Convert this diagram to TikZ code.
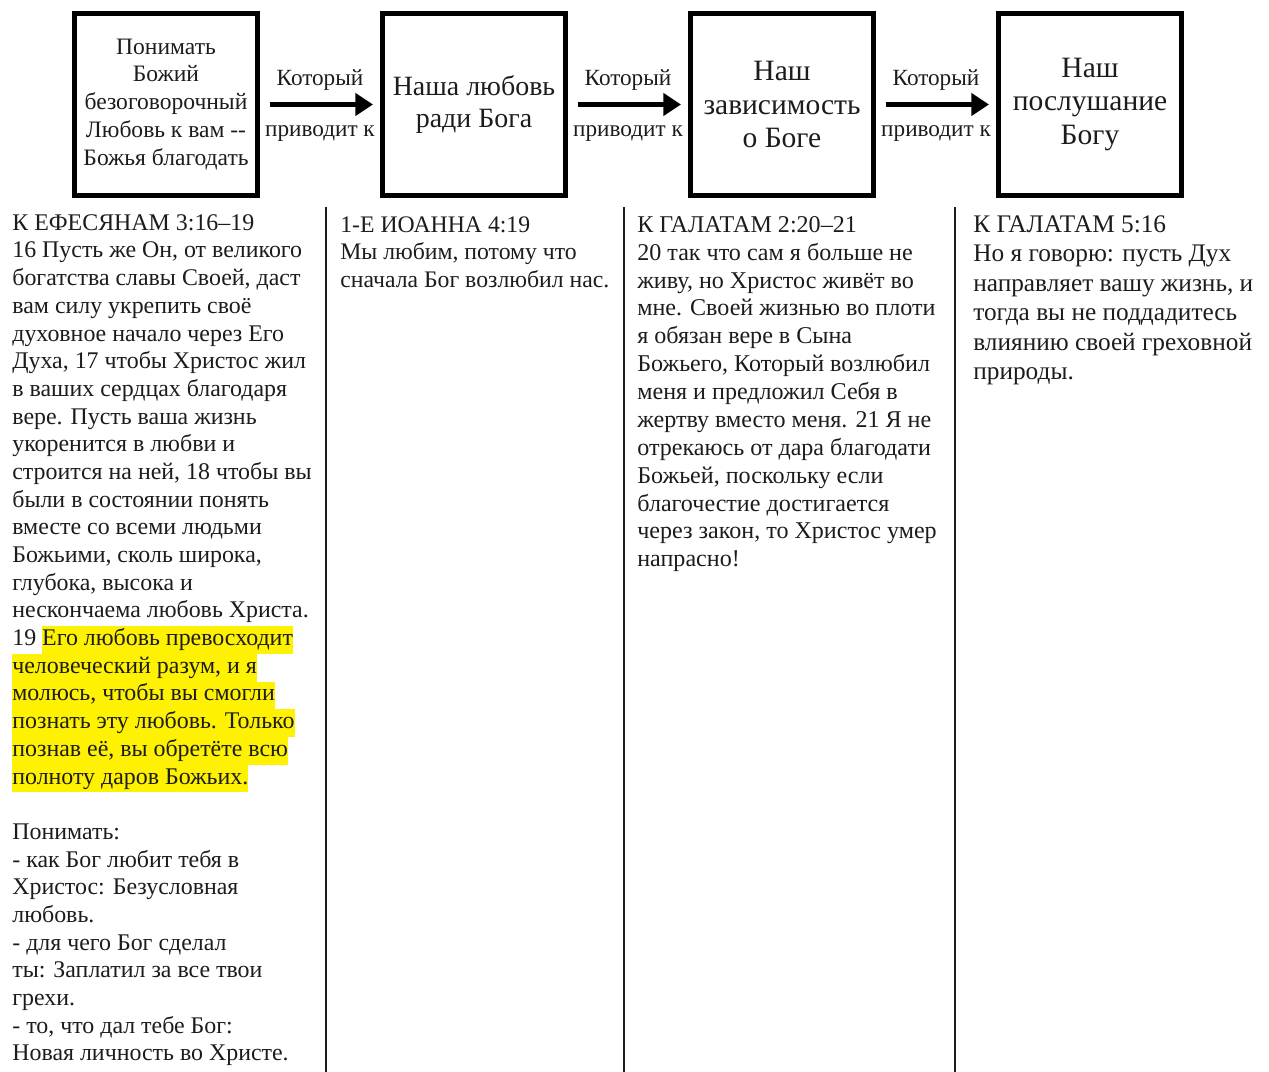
\documentclass[tikz,border=0pt]{standalone}
\usepackage{fontspec}
\setmainfont{Liberation Serif}
\usetikzlibrary{arrows.meta,positioning}
\definecolor{hlyellow}{RGB}{255,242,0}
\definecolor{inkgray}{RGB}{28,28,28}
\newcommand{\hlt}[1]{{\setlength{\fboxsep}{0pt}\colorbox{hlyellow}{\strut #1}}}

\begin{document}
\begin{tikzpicture}[
  x=0.02cm, y=-0.02cm,
  >={Triangle[length=10pt,width=12.5pt]},
  node distance=2.4cm,
  every node/.style={text=inkgray},
  stagebox/.style={draw=black, line width=2.6pt, minimum width=3.67cm, minimum height=3.65cm, align=center, inner sep=2pt},
  leadarrow/.style={->, line width=2.6pt, shorten <=5.5pt, shorten >=4pt},
  steplabel/.style={font=\fontsize{13.2}{15}\selectfont, inner sep=0pt},
  versetext/.style={anchor=north west, align=left, inner sep=0pt},
  colrule/.style={draw=inkgray, line width=1.3pt}
]
\useasboundingbox (0,0) rectangle (1269,1072);

% stages along the top
\node[stagebox, font=\fontsize{13.4}{15.9}\selectfont] (grace) at (166,104.5)
  {Понимать\\Божий\\безоговорочный\\Любовь к вам -{}-\\Божья благодать};
\node[stagebox, font=\fontsize{15.9}{18.1}\selectfont, right=of grace] (love)
  {Наша любовь\\ради Бога};
\node[stagebox, font=\fontsize{16.8}{19.3}\selectfont, right=of love] (trust)
  {Наш\\зависимость\\о Боге};
\node[stagebox, font=\fontsize{16.8}{19.3}\selectfont, right=of trust] (obey)
  {Наш\\послушание\\Богу};

\draw[leadarrow] (grace) -- node[steplabel, yshift=14pt] (lbla) {Который}
  node[steplabel, yshift=-16.5pt] (lblb) {приводит к} (love);
\draw[leadarrow] (love) -- node[steplabel, yshift=14pt] (lblc) {Который}
  node[steplabel, yshift=-16.5pt] (lbld) {приводит к} (trust);
\draw[leadarrow] (trust) -- node[steplabel, yshift=14pt] (lble) {Который}
  node[steplabel, yshift=-16.5pt] (lblf) {приводит к} (obey);

% column rules
\draw[colrule] (326,207) -- (326,1072);
\draw[colrule] (624,207) -- (624,1072);
\draw[colrule] (955,207) -- (955,1072);

% verses
\node[versetext, font=\fontsize{13.6}{15.76}\selectfont] (ephes) at (12,210.5)
  {\strut К ЕФЕСЯНАМ 3:16–19\\
   16 Пусть же Он, от великого\\
   богатства славы Своей, даст\\
   вам силу укрепить своё\\
   духовное начало через Его\\
   Духа, 17 чтобы Христос жил\\
   в ваших сердцах благодаря\\
   вере. Пусть ваша жизнь\\
   укоренится в любви и\\
   строится на ней, 18 чтобы вы\\
   были в состоянии понять\\
   вместе со всеми людьми\\
   Божьими, сколь широка,\\
   глубока, высока и\\
   нескончаема любовь Христа.\\
   19 \hlt{Его любовь превосходит}\\
   \hlt{человеческий разум, и я}\\
   \hlt{молюсь, чтобы вы смогли}\\
   \hlt{познать эту любовь. Только}\\
   \hlt{познав её, вы обретёте всю}\\
   \hlt{полноту даров Божьих.}\\
   \strut\\
   Понимать:\\
   - как Бог любит тебя в\\
   Христос: Безусловная\\
   любовь.\\
   - для чего Бог сделал\\
   ты: Заплатил за все твои\\
   грехи.\\
   - то, что дал тебе Бог:\\
   Новая личность во Христе.};

\node[versetext, font=\fontsize{13.5}{15.6}\selectfont] (john) at (340,212.7)
  {\strut 1-Е ИОАННА 4:19\\
   Мы любим, потому что\\
   сначала Бог возлюбил нас.};

\node[versetext, font=\fontsize{13.7}{15.87}\selectfont] (galA) at (637,212.4)
  {\strut К ГАЛАТАМ 2:20–21\\
   20 так что сам я больше не\\
   живу, но Христос живёт во\\
   мне. Своей жизнью во плоти\\
   я обязан вере в Сына\\
   Божьего, Который возлюбил\\
   меня и предложил Себя в\\
   жертву вместо меня. 21 Я не\\
   отрекаюсь от дара благодати\\
   Божьей, поскольку если\\
   благочестие достигается\\
   через закон, то Христос умер\\
   напрасно!};

\node[versetext, font=\fontsize{14.4}{16.8}\selectfont] (galB) at (973,211.3)
  {\strut К ГАЛАТАМ 5:16\\
   Но я говорю: пусть Дух\\
   направляет вашу жизнь, и\\
   тогда вы не поддадитесь\\
   влиянию своей греховной\\
   природы.};
\end{tikzpicture}
\end{document}
